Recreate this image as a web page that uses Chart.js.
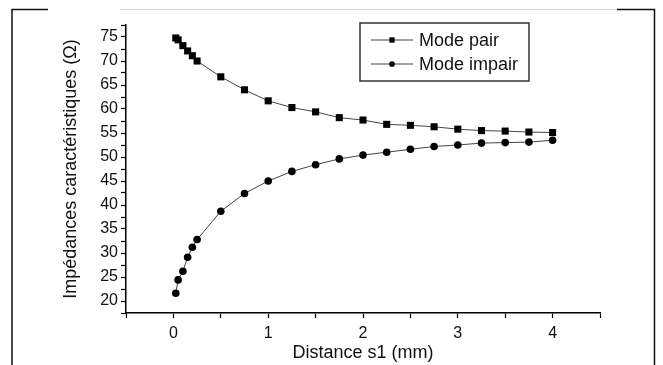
<!DOCTYPE html>
<html><head><meta charset="utf-8">
<script src="https://cdn.jsdelivr.net/npm/chart.js@4/dist/chart.umd.min.js"></script>
<style>html,body{margin:0;padding:0;background:#fff;}#wrap{position:relative;width:663px;height:365px;}</style>
</head><body><div id="wrap"><canvas id="c" width="663" height="365"></canvas></div>
<script>
const distances = [0.025,0.05,0.1,0.15,0.2,0.25,0.5,0.75,1,1.25,1.5,1.75,2,2.25,2.5,2.75,3,3.25,3.5,3.75,4];
const modePair = [74.8,74.4,73.2,72.1,71.1,70.0,66.7,64.0,61.7,60.3,59.4,58.2,57.7,56.8,56.6,56.3,55.8,55.5,55.4,55.2,55.1];
const modeImpair = [21.6,24.4,26.2,29.1,31.2,32.8,38.7,42.4,45.0,47.0,48.4,49.6,50.4,51.0,51.6,52.2,52.5,52.9,53.0,53.1,53.5];
const seriesNames = ['Mode pair','Mode impair'];
const xTitle = 'Distance s1 (mm)';
const yTitle = 'Impédances caractéristiques (Ω)';
const xRange = [-0.5, 4.5];
const yRange = [17.5, 77.5];

const FONT = "'Liberation Sans', Arial, sans-serif";
const toPts = (ys) => distances.map((x, i) => ({x: x, y: ys[i]}));

const framePlugin = {
  id: 'frame',
  afterDraw(chart) {
    const ctx = chart.ctx;
    ctx.save();
    ctx.lineWidth = 1.5;
    ctx.strokeStyle = '#111';
    ctx.beginPath();
    ctx.moveTo(12, 365); ctx.lineTo(12, 9.5); ctx.lineTo(48, 9.5);
    ctx.moveTo(617, 9.5); ctx.lineTo(654.5, 9.5); ctx.lineTo(654.5, 365);
    ctx.stroke();
    ctx.strokeStyle = '#d4d4d4';
    ctx.lineWidth = 1;
    ctx.beginPath();
    ctx.moveTo(120, 9.5); ctx.lineTo(617, 9.5);
    ctx.stroke();
    ctx.restore();
  }
};

const legendPlugin = {
  id: 'boxLegend',
  afterDraw(chart) {
    const ctx = chart.ctx;
    const bx = 360, by = 23, bw = 169, bh = 58;
    ctx.save();
    ctx.fillStyle = '#fff';
    ctx.fillRect(bx, by, bw, bh);
    ctx.strokeStyle = '#333';
    ctx.lineWidth = 1.5;
    ctx.strokeRect(bx, by, bw, bh);
    chart.data.datasets.forEach((ds, i) => {
      const cy = by + 17 + i * 24;
      ctx.strokeStyle = ds.borderColor;
      ctx.lineWidth = 1;
      ctx.beginPath();
      ctx.moveTo(371, cy); ctx.lineTo(413, cy);
      ctx.stroke();
      ctx.fillStyle = ds.pointBackgroundColor;
      ctx.strokeStyle = ds.pointBackgroundColor;
      Chart.helpers.drawPoint(ctx, {pointStyle: ds.pointStyle, rotation: 0, borderWidth: 0, radius: ds.pointRadius * 0.75}, 392, cy);
      ctx.fillStyle = '#111';
      ctx.font = "18px " + FONT;
      ctx.textBaseline = 'middle';
      ctx.textAlign = 'left';
      ctx.fillText(ds.label, 419, cy + 1);
    });
    ctx.restore();
  }
};

new Chart(document.getElementById('c'), {
  type: 'scatter',
  data: {
    datasets: [
      {label: seriesNames[0], data: toPts(modePair), showLine: true, borderColor: '#444', borderWidth: 1,
       pointStyle: 'rect', pointRadius: 5, pointBackgroundColor: '#000', pointBorderWidth: 0, pointBorderColor: '#000'},
      {label: seriesNames[1], data: toPts(modeImpair), showLine: true, borderColor: '#444', borderWidth: 1,
       pointStyle: 'circle', pointRadius: 3.8, pointBackgroundColor: '#000', pointBorderWidth: 0, pointBorderColor: '#000'}
    ]
  },
  options: {
    responsive: false, animation: false, devicePixelRatio: 1,
    layout: {padding: {left: 0, top: 25, right: 63, bottom: 0}},
    plugins: {legend: {display: false}, tooltip: {enabled: false}},
    scales: {
      x: {
        type: 'linear', min: xRange[0], max: xRange[1],
        afterFit(s) { s.height = 52; },
        border: {display: true, color: '#000', width: 1.5},
        grid: {drawOnChartArea: false, drawTicks: true, tickLength: 5, tickColor: '#000', tickWidth: 1.2},
        ticks: {stepSize: 0.5, autoSkip: false, maxRotation: 0, padding: 6, color: '#111',
          font: {family: FONT, size: 16},
          callback: (v) => Number.isInteger(v) && v >= 0 ? String(v) : ''},
        title: {display: true, text: xTitle, color: '#111', font: {family: FONT, size: 18}, padding: {top: 0, bottom: 1}}
      },
      y: {
        type: 'linear', min: yRange[0], max: yRange[1],
        afterFit(s) { s.width = 126; },
        border: {display: true, color: '#000', width: 1.5},
        grid: {drawOnChartArea: false, drawTicks: true, tickLength: 5, tickColor: '#000', tickWidth: 1.2},
        ticks: {stepSize: 2.5, autoSkip: false, padding: 3, color: '#111',
          font: {family: FONT, size: 16},
          callback: (v) => (v % 5 === 0) ? String(v) : ''},
        title: {display: true, text: yTitle, color: '#111', font: {family: FONT, size: 18}, padding: {top: 60, bottom: 0}}
      }
    }
  },
  plugins: [framePlugin, legendPlugin]
});
</script></body></html>
